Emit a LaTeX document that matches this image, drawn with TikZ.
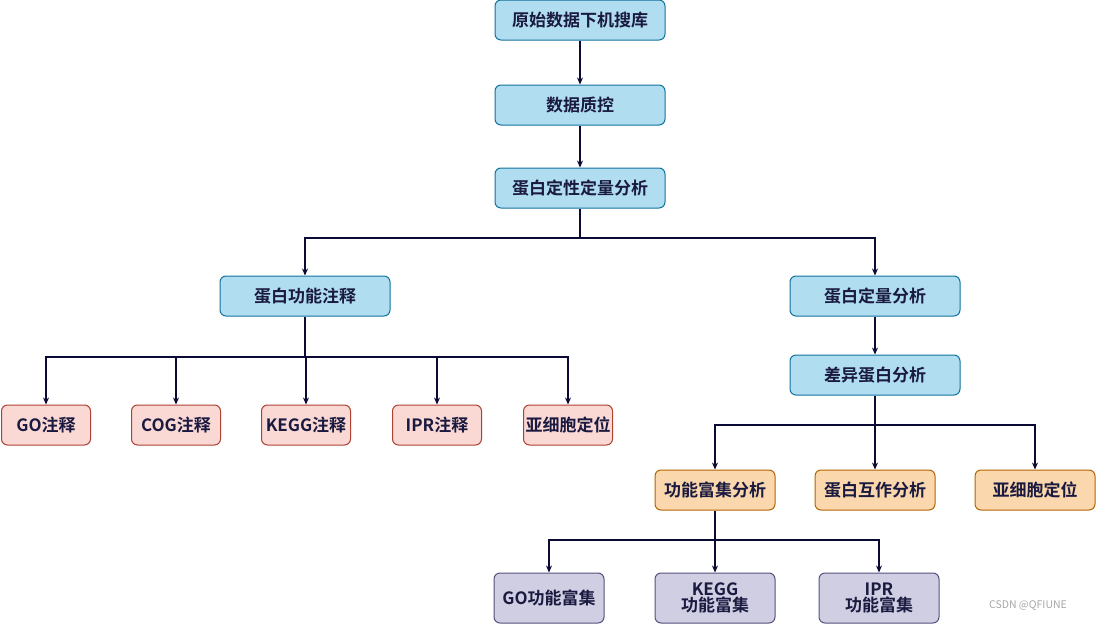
\documentclass[tikz,border=0pt]{standalone}
\usepackage{fontspec}
\setmainfont{Noto Sans CJK SC}[BoldFont={Noto Sans CJK SC Bold}]
\usetikzlibrary{arrows.meta}
\definecolor{bfill}{HTML}{B1DDF0}\definecolor{bdraw}{HTML}{10739E}
\definecolor{pfill}{HTML}{FAD9D5}\definecolor{pdraw}{HTML}{AE4132}
\definecolor{ofill}{HTML}{FAD7AC}\definecolor{odraw}{HTML}{B46504}
\definecolor{vfill}{HTML}{D0CEE2}\definecolor{vdraw}{HTML}{56517E}
\definecolor{txt}{HTML}{1A1A40}\definecolor{ln}{HTML}{0A0A35}
\tikzset{
 box/.style={rounded corners=6pt, line width=1pt, minimum height=40pt, inner sep=0pt,
   font=\fontsize{17}{19}\selectfont\bfseries, text=txt, align=center},
 bluebox/.style={box, fill=bfill, draw=bdraw, minimum width=170pt},
 pinkbox/.style={box, fill=pfill, draw=pdraw, minimum width=89pt},
 orbox/.style={box, fill=ofill, draw=odraw, minimum width=120pt},
 vbox/.style={box, fill=vfill, draw=vdraw, minimum width=120pt, minimum height=50pt},
 conn/.style={draw=ln, line width=1.1pt},
 arr/.style={conn, -{Stealth[length=7pt,width=6pt]}}
}
\begin{document}
\begin{tikzpicture}[x=1pt,y=-1pt]
\useasboundingbox (0,0) rectangle (1096,624);
\node[bluebox] (a) at (580,20) {原始数据下机搜库};
\node[bluebox] (b) at (580,105) {数据质控};
\node[bluebox] (c) at (580,188) {蛋白定性定量分析};
\node[bluebox] (d) at (305,296) {蛋白功能注释};
\node[bluebox] (e) at (875,296) {蛋白定量分析};
\node[bluebox] (f) at (875,375) {差异蛋白分析};
\node[pinkbox] (g1) at (46,425) {GO注释};
\node[pinkbox] (g2) at (176,425) {COG注释};
\node[pinkbox] (g3) at (306,425) {KEGG注释};
\node[pinkbox] (g4) at (437,425) {IPR注释};
\node[pinkbox] (g5) at (568,425) {亚细胞定位};
\node[orbox] (h1) at (715,490) {功能富集分析};
\node[orbox] (h2) at (875,490) {蛋白互作分析};
\node[orbox] (h3) at (1035,490) {亚细胞定位};
\node[vbox, minimum width=110pt] (k1) at (549,598) {GO功能富集};
\node[vbox] (k2) at (715,598) {KEGG\\[-3pt]功能富集};
\node[vbox] (k3) at (879,598) {IPR\\[-3pt]功能富集};
\node[text=gray!70, font=\fontsize{10.5}{12}\selectfont] (wm) at (1028,606) {CSDN @QFIUNE};
\draw[arr] (a) -- (b);
\draw[arr] (b) -- (c);
\coordinate (cj) at (580,238);
\draw[conn] (c) -- (cj);
\draw[arr] (cj) -| (d);
\draw[arr] (cj) -| (e);
\draw[arr] (e) -- (f);
\coordinate (dj) at (305,357);
\draw[conn] (d) -- (dj);
\foreach \n in {g1,g2,g3,g4,g5} \draw[arr] (dj) -| (\n);
\coordinate (fj) at (875,425);
\draw[conn] (f) -- (fj);
\foreach \n in {h1,h2,h3} \draw[arr] (fj) -| (\n);
\coordinate (hj) at (715,540);
\draw[conn] (h1) -- (hj);
\foreach \n in {k1,k2,k3} \draw[arr] (hj) -| (\n);
\end{tikzpicture}
\end{document}
